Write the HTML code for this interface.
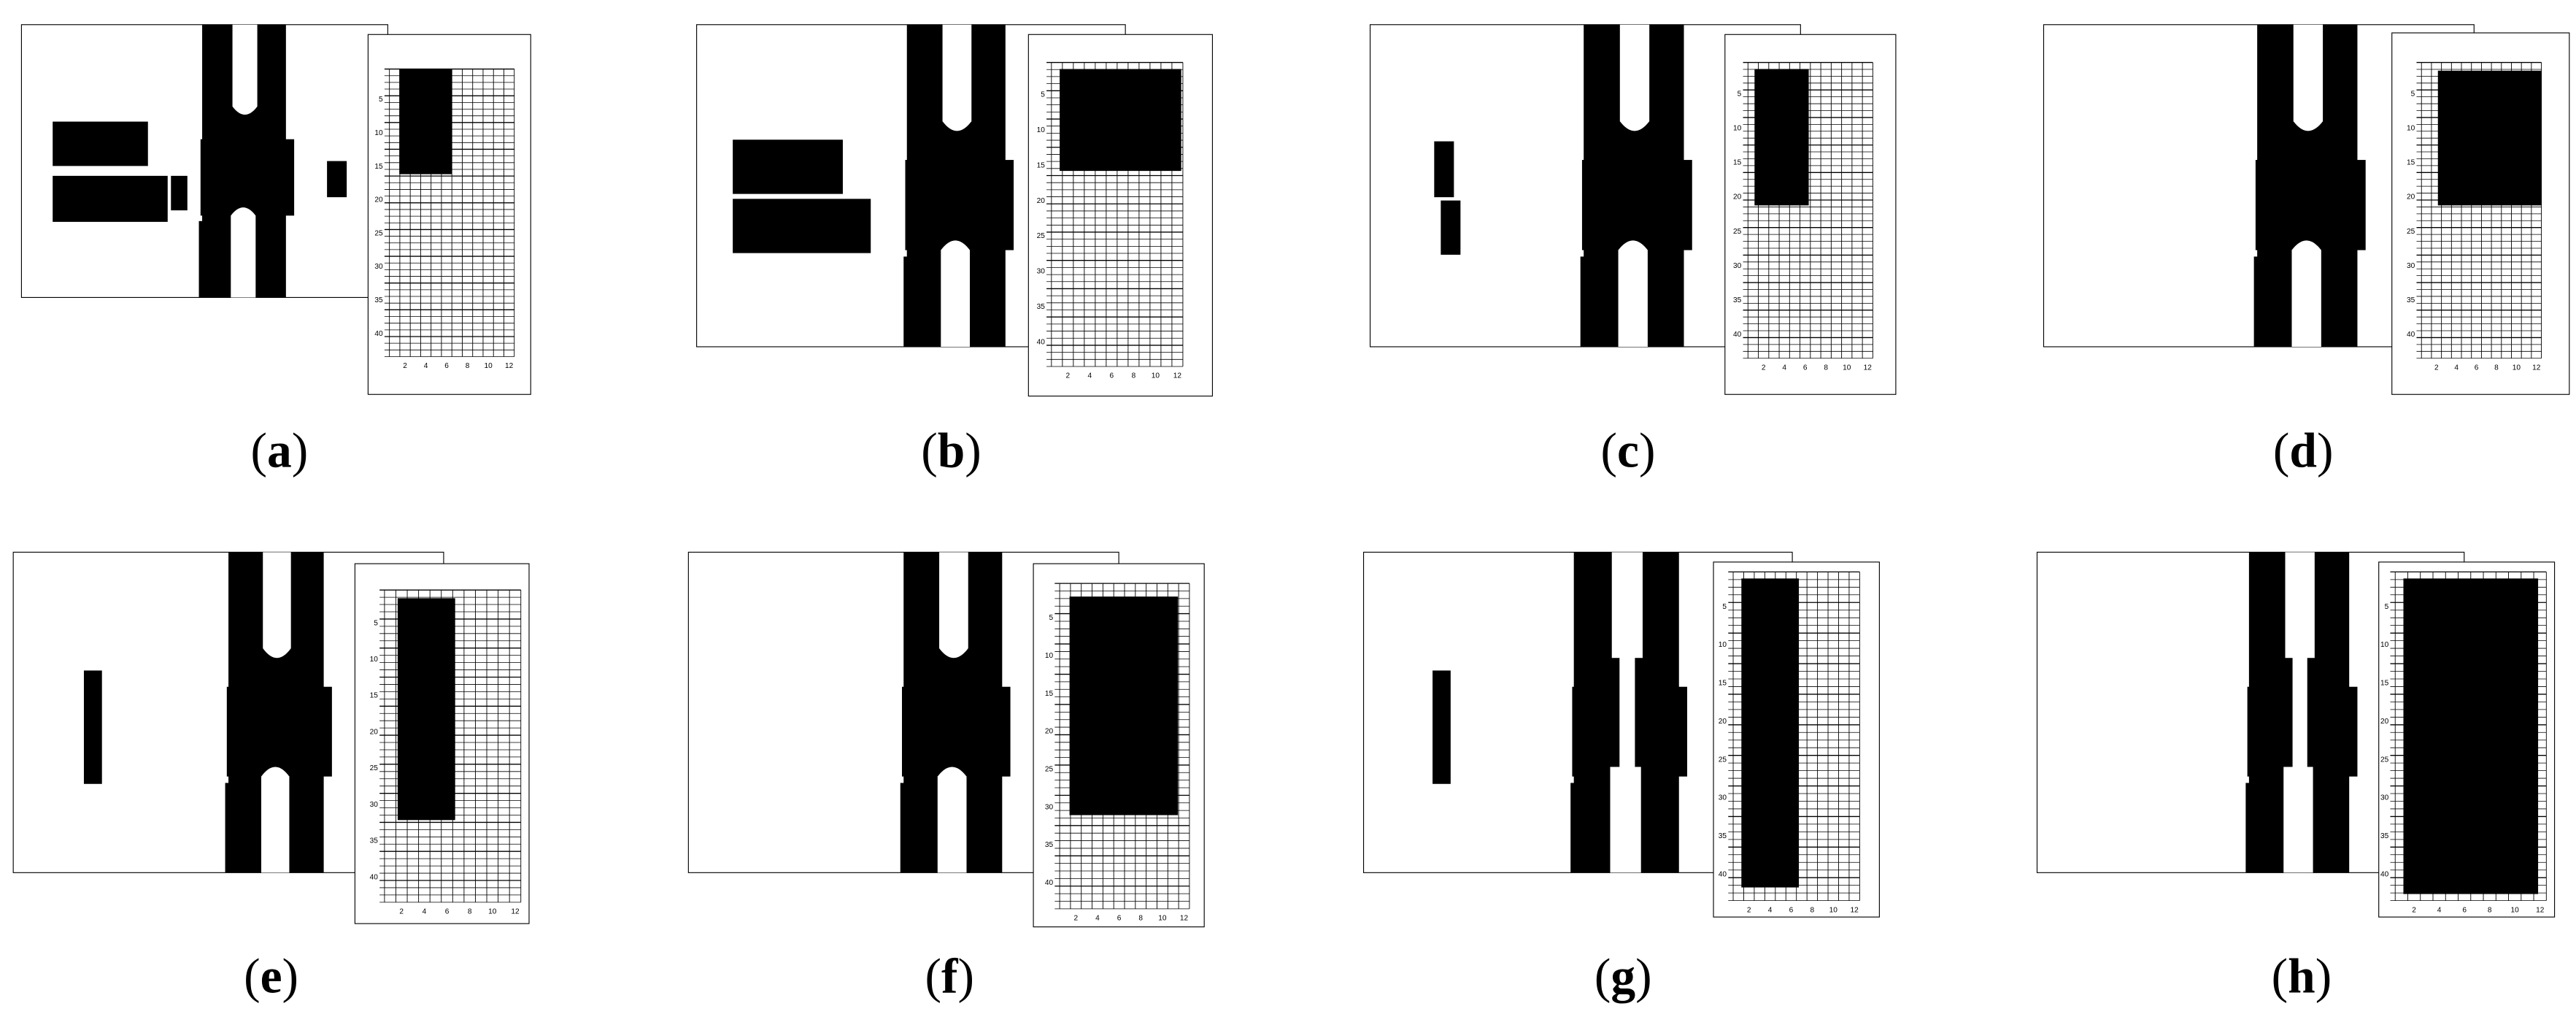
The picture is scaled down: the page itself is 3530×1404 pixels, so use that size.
<!DOCTYPE html>
<html><head><meta charset="utf-8"><style>
html,body{margin:0;padding:0;background:#fff;}
svg{display:block;}
</style></head><body>
<svg id="s" width="3530" height="1404" viewBox="0 0 1568 623.7" xmlns="http://www.w3.org/2000/svg">
<rect x="0" y="0" width="1568" height="623.7" fill="#fff"/>
<g id="g"></g>
<text x="170" y="284" font-family="Liberation Serif, serif" font-size="30" text-anchor="middle">(<tspan font-weight="bold">a</tspan>)</text>
<text x="579" y="284" font-family="Liberation Serif, serif" font-size="30" text-anchor="middle">(<tspan font-weight="bold">b</tspan>)</text>
<text x="991" y="284" font-family="Liberation Serif, serif" font-size="30" text-anchor="middle">(<tspan font-weight="bold">c</tspan>)</text>
<text x="1402" y="284" font-family="Liberation Serif, serif" font-size="30" text-anchor="middle">(<tspan font-weight="bold">d</tspan>)</text>
<text x="165" y="604" font-family="Liberation Serif, serif" font-size="30" text-anchor="middle">(<tspan font-weight="bold">e</tspan>)</text>
<text x="578" y="604" font-family="Liberation Serif, serif" font-size="30" text-anchor="middle">(<tspan font-weight="bold">f</tspan>)</text>
<text x="988" y="604" font-family="Liberation Serif, serif" font-size="30" text-anchor="middle">(<tspan font-weight="bold">g</tspan>)</text>
<text x="1401" y="604" font-family="Liberation Serif, serif" font-size="30" text-anchor="middle">(<tspan font-weight="bold">h</tspan>)</text>
</svg>
<script>
var NS="http://www.w3.org/2000/svg",G=document.getElementById("g");
function el(t,a){var e=document.createElementNS(NS,t);for(var k in a)e.setAttribute(k,a[k]);G.appendChild(e);return e;}
function rect(x,y,w,h,f,s){return el("rect",{x:x,y:y,width:w,height:h,fill:f||"#000",stroke:s||"none","stroke-width":0.5});}
function pipe(L,R,T,B,merged){
  var h=B-T,w=R-L;
  rect(L+1,T,w-3,h);
  rect(L,T+h*0.42,w+3,h*0.28);
  rect(L-1,T+h*0.72,w-2,h*0.28);
  var gw=w*0.28,gc=L+w*0.5;
  if(merged){
    el("path",{d:"M"+(gc-gw/2)+" "+T+"V"+(T+h*0.3)+"Q"+gc+" "+(T+h*0.36)+" "+(gc+gw/2)+" "+(T+h*0.3)+"V"+T+"Z",fill:"#fff"});
    var c2=gc-1;
    el("path",{d:"M"+(c2-gw/2)+" "+B+"V"+(T+h*0.7)+"Q"+c2+" "+(T+h*0.64)+" "+(c2+gw/2)+" "+(T+h*0.7)+"V"+B+"Z",fill:"#fff"});
  } else {
    rect(gc-gw/2,T,gw,h*0.33,"#fff");
    rect(gc-gw*0.25,T+h*0.3,gw*0.5,h*0.4,"#fff");
    rect(gc-gw/2-1,T+h*0.67,gw,h*0.33,"#fff");
  }
}
function inset(bx0,by0,bx1,by1,gx0,gy0,gx1,gy1,rx0,ry0,rx1,ry1){
  rect(bx0,by0,bx1-bx0,by1-by0,"#fff","#000");
  var ux=(gx1-gx0)/12,uy=(gy1-gy0)/43;
  for(var i=0;i<=12;i++){var x=gx0+i*ux;el("line",{x1:x,y1:gy0,x2:x,y2:gy1,stroke:"#000","stroke-width":0.4});}
  for(var j=0;j<=43;j++){var y=gy0+j*uy;el("line",{x1:gx0-3,y1:y,x2:gx1,y2:y,stroke:"#000","stroke-width":(j%4==0?0.6:0.35)});}
  rect(rx0,ry0,rx1-rx0,ry1-ry0);
  for(var k=1;k<=8;k++){var t=el("text",{x:gx0-4,y:gy0+(k*5-0.5)*uy+1.5,"font-family":"Liberation Sans, sans-serif","font-size":4.5,"text-anchor":"end"});t.textContent=k*5;}
  for(var m=1;m<=6;m++){var t2=el("text",{x:gx0+(m*2-0.5)*ux,y:gy1+7,"font-family":"Liberation Sans, sans-serif","font-size":4.5,"text-anchor":"middle"});t2.textContent=m*2;}
}
function box(x0,y0,x1,y1){rect(x0,y0,x1-x0,y1-y0,"#fff","#000");}
/* a */
box(13,15,236,181);pipe(122,176,15,181,true);
rect(32,74,58,27);rect(32,107,70,28);rect(104,107,10,21);rect(199,98,12,22);
inset(224,21,323,240,237,42,313,217,243,42,275,106);
/* b */
box(424,15,685,211);pipe(551,614,15,211,true);
rect(446,85,67,33);rect(446,121,84,33);
inset(626,21,738,241,640,38,720,223,645,42,719,104);
/* c */
box(834,15,1096,211);pipe(963,1027,15,211,true);
rect(873,86,12,34);rect(877,122,12,33);
inset(1050,21,1154,240,1064,38,1140,218,1068,42,1101,125);
/* d */
box(1244,15,1506,211);pipe(1373,1437,15,211,true);
inset(1456,20,1564,240,1474,38,1547,218,1484,43,1547,125);
/* e */
box(8,336,270,531);pipe(138,199,336,531,true);
rect(51,408,11,69);
inset(216,343,322,562,234,359,317,549,242,364,277,499);
/* f */
box(419,336,681,531);pipe(549,612,336,531,true);
inset(629,343,733,564,645,355,724,553,651,363,717,496);
/* g */
box(830,336,1091,531);pipe(957,1024,336,531,false);
rect(872,408,11,69);
inset(1043,342,1144,558,1055,348,1132,548,1060,352,1095,540);
/* h */
box(1240,336,1500,531);pipe(1368,1432,336,531,false);
inset(1448,342,1555,558,1458,348,1550,548,1463,352,1545,544);
</script>
</body></html>
